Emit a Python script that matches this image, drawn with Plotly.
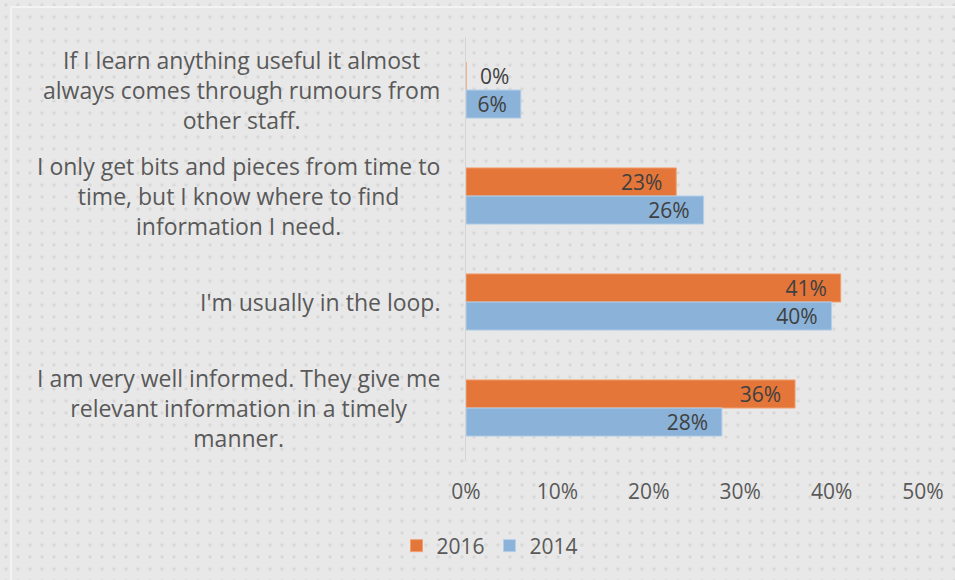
import base64
import plotly.graph_objects as go

categories = [
    "If I learn anything useful it almost<br>always comes through rumours from<br>other staff.",
    "I only get bits and pieces from time to<br>time, but I know where to find<br>information I need.",
    "I'm usually in the loop.",
    "I am very well informed. They give me<br>relevant information in a timely<br>manner.",
]
values_2016 = [0.00, 0.23, 0.41, 0.36]
values_2014 = [0.06, 0.26, 0.40, 0.28]
x_ticks = [0, 0.1, 0.2, 0.3, 0.4, 0.5]

W, H = 955, 580
ML, MR, MT, MB = 466, 32, 37, 119

text_color = '#595959'
font_family = '"Open Sans", "Noto Sans", sans-serif'
bg = '#e8e8e8'
pad = '\u00a0\u00a0'

# dotted backdrop with the faint frame, stretched over the whole page
svg = f'''<svg xmlns="http://www.w3.org/2000/svg" width="{W}" height="{H}">
<defs><pattern id="d" width="12" height="12" patternUnits="userSpaceOnUse">
<circle cx="6" cy="5" r="1.7" fill="#d8d8d8"/></pattern></defs>
<rect width="{W}" height="{H}" fill="{bg}"/>
<rect width="{W}" height="{H}" fill="url(#d)"/>
<path d="M11 {H} V7 H{W}" stroke="#f3f3f3" stroke-width="2" fill="none"/>
</svg>'''
svg_uri = 'data:image/svg+xml;base64,' + base64.b64encode(svg.encode()).decode()

pw, ph = W - ML - MR, H - MT - MB

fig = go.Figure()

fig.add_trace(go.Bar(
    y=categories, x=values_2016,
    name='2016', orientation='h',
    marker=dict(color='#E4763A', line=dict(color='#F0A070', width=1)),
    text=[pad + f'{v:.0%}' if v == 0 else f'{v:.0%}' + pad for v in values_2016],
    textposition=['outside' if v == 0 else 'inside' for v in values_2016],
    insidetextanchor='end', cliponaxis=False, constraintext='none',
    textfont=dict(size=21, color='#404040'),
))

fig.add_trace(go.Bar(
    y=categories, x=values_2014,
    name='2014', orientation='h',
    marker=dict(color='#8BB2D8', line=dict(color='#B5CFE8', width=1)),
    text=[f'{v:.0%}' + pad for v in values_2014],
    textposition='inside', insidetextanchor='end', constraintext='none',
    textfont=dict(size=21, color='#404040'),
))

# category labels: centred lines, box right-aligned against the axis
for cat in categories:
    fig.add_annotation(
        x=0, xref='paper', y=cat, yref='y',
        text=cat, showarrow=False,
        xanchor='right', yanchor='middle', align='center', xshift=-24,
        font=dict(size=23, color=text_color, family=font_family),
    )

fig.update_layout(
    width=W, height=H,
    barmode='group',
    bargap=0.47,
    bargroupgap=0,
    paper_bgcolor=bg,
    plot_bgcolor='rgba(0,0,0,0)',
    font=dict(family=font_family, size=21, color=text_color),
    margin=dict(l=ML, r=MR, t=MT, b=MB),
    images=[dict(
        source=svg_uri, xref='paper', yref='paper',
        x=-ML / pw, y=1 + MT / ph, sizex=W / pw, sizey=H / ph,
        xanchor='left', yanchor='top', sizing='stretch', layer='below',
    )],
    xaxis=dict(
        range=[0, 0.5], tickvals=x_ticks, tickformat='.0%',
        showgrid=False, zeroline=False,
        showline=False, ticks='', ticklabelstandoff=16,
        tickfont=dict(size=21, color=text_color),
    ),
    yaxis=dict(
        autorange='reversed',
        showgrid=False, zeroline=False,
        showline=True, linecolor='#d4d4d4', linewidth=1,
        ticks='', showticklabels=False,
    ),
    legend=dict(
        orientation='h', x=(490 - ML) / pw, xanchor='center',
        y=-(546 - (H - MB)) / ph, yanchor='middle',
        font=dict(size=21, color=text_color),
        itemwidth=30, bgcolor='rgba(0,0,0,0)',
    ),
    showlegend=True,
)

fig.write_html(
    "out.html",
    config={'displayModeBar': False},
    post_script="document.body.style.margin='0';document.body.style.background='%s';" % bg,
)
